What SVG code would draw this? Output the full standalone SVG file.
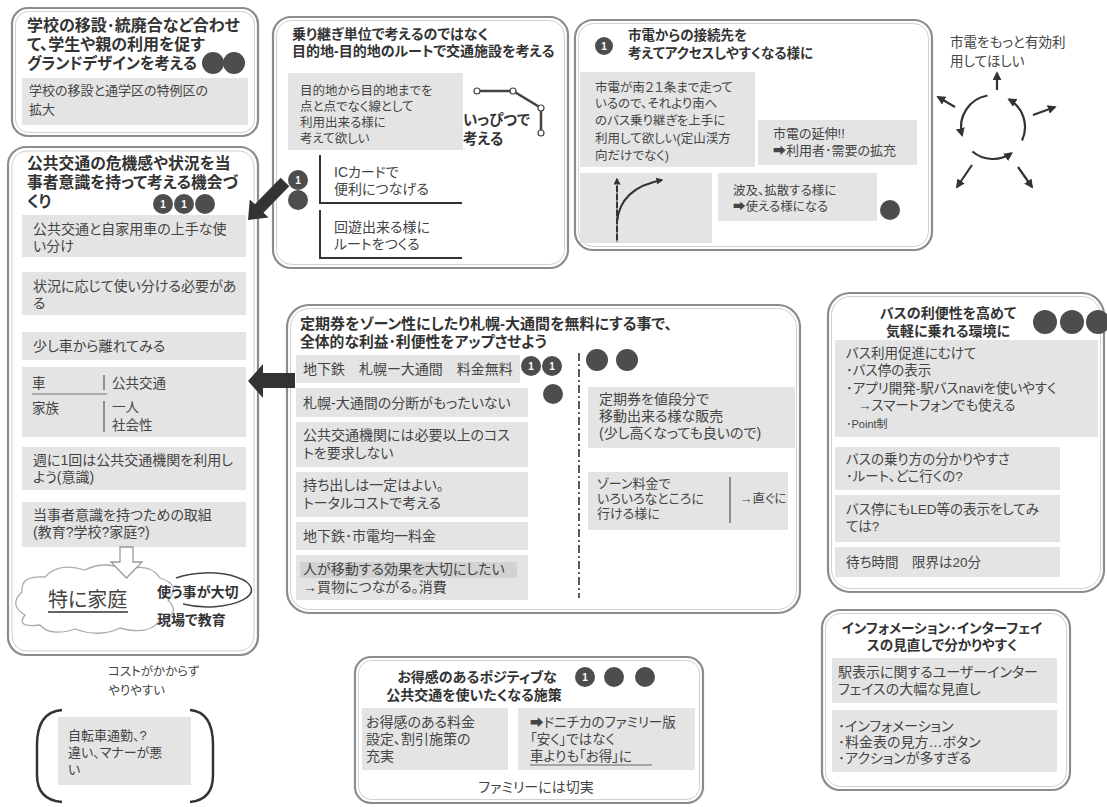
<svg xmlns="http://www.w3.org/2000/svg" width="1107" height="807" viewBox="0 0 1107 807" font-size="12.5">
<defs>
<style>
text{font-family:"Liberation Sans","Noto Sans CJK JP","DejaVu Sans",sans-serif;fill:#444;font-feature-settings:"palt" 1}
.t{font-weight:700;fill:#333}
.frame{fill:#fff;stroke:#8c8c8c;stroke-width:2.2}
.inner{fill:none;stroke:#d0d0d0;stroke-width:1}
.card{fill:#e4e4e4}
.dot{fill:#4d4d4d}
.num{fill:#fff;font-size:10px;font-weight:700;text-anchor:middle}
.ln{stroke:#333;stroke-width:2;fill:none}
.arr{stroke:#333;stroke-width:2.2;fill:none;marker-end:url(#ah)}
.big{fill:#333}
</style>
<marker id="ah" viewBox="0 0 10 10" refX="8" refY="5" markerWidth="9" markerHeight="9" markerUnits="userSpaceOnUse" orient="auto">
<path d="M0,0 L10,5 L0,10 z" fill="#333"/>
</marker>
<marker id="ahs" viewBox="0 0 10 10" refX="8" refY="5" markerWidth="7" markerHeight="7" markerUnits="userSpaceOnUse" orient="auto">
<path d="M0,0 L10,5 L0,10 z" fill="#333"/>
</marker>
</defs>
<rect width="1107" height="807" fill="#fff"/>

<g id="n-school">
<rect class="frame" x="12" y="8" width="246" height="128" rx="16"/>
<rect class="inner" x="15.5" y="11.5" width="239" height="121" rx="13"/>
<text class="t" font-size="16"><tspan x="27" y="31">学校の移設･統廃合など合わせ</tspan><tspan x="27" y="50">て、学生や親の利用を促す</tspan></text>
<text class="t" font-size="16" x="27" y="69" textLength="170" lengthAdjust="spacingAndGlyphs">グランドデザインを考える</text>
<circle class="dot" cx="213" cy="63" r="11"/><circle class="dot" cx="234" cy="63" r="11"/>
<rect class="card" x="22" y="78" width="226" height="47"/>
<text font-size="13"><tspan x="29" y="95">学校の移設と通学区の特例区の</tspan><tspan x="29" y="114">拡大</tspan></text>
</g>

<g id="n-awareness">
<rect class="frame" x="8" y="147" width="250" height="508" rx="18"/>
<rect class="inner" x="12" y="151" width="242" height="500" rx="15"/>
<text class="t" font-size="15.8"><tspan x="27" y="169">公共交通の危機感や状況を当</tspan><tspan x="27" y="188">事者意識を持って考える機会づ</tspan><tspan x="27" y="207">くり</tspan></text>
<circle class="dot" cx="163" cy="204" r="10"/><text class="num" x="163" y="208">1</text>
<circle class="dot" cx="184" cy="204" r="10"/><text class="num" x="184" y="208">1</text>
<circle class="dot" cx="205" cy="204" r="10"/>
<rect class="card" x="22" y="215" width="224" height="42"/>
<text font-size="14"><tspan x="33" y="234">公共交通と自家用車の上手な使</tspan><tspan x="33" y="251">い分け</tspan></text>
<rect class="card" x="22" y="272" width="224" height="43"/>
<text font-size="14"><tspan x="33" y="291">状況に応じて使い分ける必要があ</tspan><tspan x="33" y="308">る</tspan></text>
<rect class="card" x="22" y="332" width="224" height="28"/>
<text font-size="14" x="33" y="351">少し車から離れてみる</text>
<rect class="card" x="22" y="367" width="224" height="70"/>
<text font-size="13.5" x="32" y="388">車</text>
<text font-size="13.5" x="112" y="388">公共交通</text>
<line x1="32" y1="394" x2="107" y2="394" stroke="#777" stroke-width="1.2"/>
<line x1="104" y1="375" x2="104" y2="390" stroke="#555" stroke-width="1.2"/>
<text font-size="13.5" x="32" y="413">家族</text>
<text font-size="13.5" x="112" y="412">一人</text>
<text font-size="13.5" x="112" y="430">社会性</text>
<line x1="104" y1="401" x2="104" y2="432" stroke="#555" stroke-width="1.2"/>
<rect class="card" x="22" y="447" width="224" height="43"/>
<text font-size="14"><tspan x="33" y="465">週に1回は公共交通機関を利用し</tspan><tspan x="33" y="482">よう(意識)</tspan></text>
<rect class="card" x="22" y="502" width="224" height="45"/>
<text font-size="14"><tspan x="33" y="520">当事者意識を持つための取組</tspan><tspan x="33" y="537">(教育?学校?家庭?)</tspan></text>
<path d="M25 615 Q8 605 22 592 Q20 575 45 577 Q58 562 85 570 Q105 560 125 570 Q150 562 160 578 Q182 585 168 600 Q182 615 160 620 Q150 636 120 628 Q100 638 75 629 Q50 637 40 625 Q15 628 25 615 Z" fill="#fff" stroke="#aaa" stroke-width="1.3"/>
<path d="M120 547 L133 547 L133 562 L142 562 L126.5 578 L111 562 L120 562 Z" fill="#fff" stroke="#999" stroke-width="1.3"/>
<text font-size="20" x="48" y="607" fill="#333">特に家庭</text>
<line x1="48" y1="612" x2="128" y2="612" stroke="#333" stroke-width="1.3"/>
<path d="M176 578 A44 17 0 1 1 183 604" fill="none" stroke="#444" stroke-width="1.5"/>
<text class="t" font-size="14" x="157" y="597">使う事が大切</text>
<text class="t" font-size="14" x="157" y="625">現場で教育</text>
</g>

<g id="n-cost">
<text x="108" y="676">コストがかからず</text>
<text x="108" y="695">やりやすい</text>
</g>

<g id="n-bicycle">
<path d="M62 710 Q37 712 37 745 L37 775 Q37 800 62 802" fill="none" stroke="#333" stroke-width="2.5"/>
<path d="M190 710 Q213 712 213 745 L213 775 Q213 800 190 802" fill="none" stroke="#333" stroke-width="2.5"/>
<rect class="card" x="58" y="717" width="133" height="68"/>
<text font-size="13"><tspan x="68" y="740">自転車通勤、?</tspan><tspan x="68" y="757">違い、マナーが悪</tspan><tspan x="68" y="774">い</tspan></text>
</g>

<g id="n-route">
<rect class="frame" x="273" y="17" width="295" height="251" rx="18"/>
<rect class="inner" x="276.5" y="20.5" width="288" height="244" rx="15"/>
<text class="t" font-size="14"><tspan x="292" y="39">乗り継ぎ単位で考えるのではなく</tspan><tspan x="292" y="56">目的地-目的地のルートで交通施設を考える</tspan></text>
<rect class="card" x="288" y="73" width="175" height="77"/>
<text><tspan x="300" y="95">目的地から目的地までを</tspan><tspan x="300" y="111">点と点でなく線として</tspan><tspan x="300" y="127">利用出来る様に</tspan><tspan x="300" y="143">考えて欲しい</tspan></text>
<polyline points="477,91 513,91 541,108 541,133" fill="none" stroke="#444" stroke-width="2.5"/>
<circle cx="477" cy="91" r="3" fill="#fff" stroke="#444" stroke-width="1.2"/>
<circle cx="513" cy="91" r="3" fill="#fff" stroke="#444" stroke-width="1.2"/>
<circle cx="541" cy="108" r="3" fill="#fff" stroke="#444" stroke-width="1.2"/>
<circle cx="541" cy="133" r="3" fill="#fff" stroke="#444" stroke-width="1.2"/>
<text class="t" font-size="14.5"><tspan x="463" y="125">いっぴつで</tspan><tspan x="463" y="144">考える</tspan></text>
<polyline class="ln" points="320,155 320,203 462,203"/>
<text font-size="14"><tspan x="334" y="177">ICカードで</tspan><tspan x="334" y="194">便利につなげる</tspan></text>
<polyline class="ln" points="320,210 320,258 462,258"/>
<text font-size="14"><tspan x="334" y="232">回遊出来る様に</tspan><tspan x="334" y="249">ルートをつくる</tspan></text>
<circle class="dot" cx="298" cy="180" r="10"/><text class="num" x="298" y="184">1</text>
<circle class="dot" cx="298" cy="200" r="10"/>
</g>

<g id="n-tram">
<rect class="frame" x="575" y="20" width="357" height="230" rx="18"/>
<rect class="inner" x="578.5" y="23.5" width="350" height="223" rx="15"/>
<circle class="dot" cx="604" cy="46" r="9"/><text class="num" x="604" y="50">1</text>
<text class="t" font-size="13.5"><tspan x="628" y="40">市電からの接続先を</tspan><tspan x="628" y="58">考えてアクセスしやすくなる様に</tspan></text>
<rect class="card" x="580" y="72" width="175" height="95"/>
<text><tspan x="595" y="92">市電が南２１条まで走って</tspan><tspan x="595" y="108">いるので、それより南へ</tspan><tspan x="595" y="125">のバス乗り継ぎを上手に</tspan><tspan x="595" y="143">利用して欲しい(定山渓方</tspan><tspan x="595" y="160">向だけでなく)</tspan></text>
<rect class="card" x="758" y="120" width="159" height="45"/>
<text font-size="13"><tspan x="773" y="138">市電の延伸!!</tspan><tspan x="773" y="155">➡利用者･需要の拡充</tspan></text>
<rect class="card" x="580" y="173" width="132" height="70"/>
<line x1="617" y1="242" x2="617" y2="179" stroke="#333" stroke-width="2" marker-end="url(#ahs)"/>
<line x1="617" y1="242" x2="617" y2="184" stroke="#e4e4e4" stroke-width="1" stroke-dasharray="2 6"/>
<path d="M617 222 Q620 188 662 180" fill="none" stroke="#333" stroke-width="2" marker-end="url(#ahs)"/>
<rect class="card" x="718" y="173" width="159" height="48"/>
<text font-size="12.5"><tspan x="733" y="195">波及、拡散する様に</tspan><tspan x="733" y="211">➡使える様になる</tspan></text>
<circle class="dot" cx="890" cy="210" r="10"/>
</g>

<g id="n-tram-use">
<text font-size="13.5"><tspan x="950" y="47">市電をもっと有効利</tspan><tspan x="950" y="66">用してほしい</tspan></text>
<path class="arr" d="M987.4 95.5 A32 32 0 0 0 962.1 135.3"/>
<path class="arr" d="M1022 140.5 A32 32 0 0 0 1009 99.3"/>
<path class="arr" d="M972.4 151.5 A32 32 0 0 0 1011.4 153.2"/>
<line class="arr" x1="997" y1="90" x2="997" y2="73"/>
<line class="arr" x1="955" y1="107" x2="938" y2="97"/>
<line class="arr" x1="1033" y1="115" x2="1055" y2="107"/>
<line class="arr" x1="972" y1="165" x2="957" y2="187"/>
<line class="arr" x1="1018" y1="167" x2="1032" y2="187"/>
</g>

<g id="n-zone">
<rect class="frame" x="287" y="305" width="513" height="308" rx="22"/>
<rect class="inner" x="290.5" y="308.5" width="506" height="301" rx="19"/>
<text class="t" font-size="14.8" x="300" y="329" textLength="372" lengthAdjust="spacingAndGlyphs">定期券をゾーン性にしたり札幌-大通間を無料にする事で、</text>
<text class="t" font-size="14.8" x="300" y="347">全体的な利益･利便性をアップさせよう</text>
<rect class="card" x="296" y="355" width="224" height="28"/>
<text font-size="14" x="303" y="374">地下鉄　札幌ー大通間　料金無料</text>
<rect class="card" x="296" y="388" width="232" height="29"/>
<text font-size="14" x="303" y="408">札幌-大通間の分断がもったいない</text>
<rect class="card" x="296" y="422" width="232" height="45"/>
<text font-size="14"><tspan x="303" y="440">公共交通機関には必要以上のコス</tspan><tspan x="303" y="458">トを要求しない</tspan></text>
<rect class="card" x="296" y="472" width="232" height="45"/>
<text font-size="14"><tspan x="303" y="490">持ち出しは一定はよい。</tspan><tspan x="303" y="508">トータルコストで考える</tspan></text>
<rect class="card" x="296" y="522" width="232" height="28"/>
<text font-size="14" x="303" y="541">地下鉄･市電均一料金</text>
<rect class="card" x="296" y="555" width="232" height="45"/>
<rect x="300" y="562" width="217" height="16" fill="#d2d2d2"/>
<text font-size="14"><tspan x="303" y="574">人が移動する効果を大切にしたい</tspan><tspan x="303" y="592">→買物につながる。消費</tspan></text>
<circle class="dot" cx="531" cy="366" r="10"/><text class="num" x="531" y="370">1</text>
<circle class="dot" cx="552" cy="366" r="10"/><text class="num" x="552" y="370">1</text>
<circle class="dot" cx="553" cy="394" r="10"/>
<line x1="579" y1="353" x2="579" y2="598" stroke="#333" stroke-width="1.6" stroke-dasharray="8 3 2 3"/>
<circle class="dot" cx="597" cy="360" r="11"/>
<circle class="dot" cx="627" cy="360" r="11"/>
<rect class="card" x="588" y="387" width="207" height="61"/>
<text font-size="14"><tspan x="599" y="404">定期券を値段分で</tspan><tspan x="599" y="421">移動出来る様な販売</tspan><tspan x="599" y="438">(少し高くなっても良いので)</tspan></text>
<rect class="card" x="588" y="472" width="200" height="58"/>
<text font-size="13"><tspan x="597" y="488">ゾーン料金で</tspan><tspan x="597" y="503">いろいろなところに</tspan><tspan x="597" y="518">行ける様に</tspan></text>
<line x1="730" y1="477" x2="730" y2="523" stroke="#555" stroke-width="1.2"/>
<text font-size="12.5" x="740" y="503">→直ぐに</text>
</g>

<g id="n-bus">
<rect class="frame" x="828" y="293" width="276" height="299" rx="22"/>
<rect class="inner" x="831.5" y="296.5" width="269" height="292" rx="19"/>
<text class="t" font-size="14" text-anchor="middle"><tspan x="948" y="318">バスの利便性を高めて</tspan><tspan x="948" y="336">気軽に乗れる環境に</tspan></text>
<circle class="dot" cx="1045" cy="322" r="12"/>
<circle class="dot" cx="1072" cy="322" r="12"/>
<circle class="dot" cx="1098" cy="322" r="12"/>
<rect class="card" x="835" y="340" width="263" height="97"/>
<text font-size="13.5"><tspan x="846" y="358">バス利用促進にむけて</tspan><tspan x="846" y="375">･バス停の表示</tspan><tspan x="846" y="393">･アプリ開発-駅バスnaviを使いやすく</tspan><tspan x="858" y="410">→スマートフォンでも使える</tspan></text>
<text font-size="11" x="846" y="428">･Point制</text>
<rect class="card" x="835" y="447" width="225" height="43"/>
<text font-size="13.5"><tspan x="846" y="464">バスの乗り方の分かりやすさ</tspan><tspan x="846" y="481">･ルート、どこ行くの?</tspan></text>
<rect class="card" x="835" y="495" width="225" height="47"/>
<text font-size="13.5"><tspan x="846" y="514">バス停にもLED等の表示をしてみ</tspan><tspan x="846" y="531">ては?</tspan></text>
<rect class="card" x="835" y="547" width="225" height="30"/>
<text font-size="13.5" x="846" y="567">待ち時間　限界は20分</text>
</g>

<g id="n-info">
<rect class="frame" x="822" y="610" width="248" height="180" rx="18"/>
<rect class="inner" x="825.5" y="613.5" width="241" height="173" rx="15"/>
<text class="t" font-size="13.6" text-anchor="middle"><tspan x="942" y="633">インフォメーション･インターフェイ</tspan><tspan x="942" y="650">スの見直しで分かりやすく</tspan></text>
<rect class="card" x="832" y="658" width="225" height="45"/>
<text font-size="14"><tspan x="838" y="677">駅表示に関するユーザーインター</tspan><tspan x="838" y="694">フェイスの大幅な見直し</tspan></text>
<rect class="card" x="832" y="710" width="225" height="62"/>
<text font-size="14"><tspan x="838" y="731">･インフォメーション</tspan><tspan x="838" y="747">･料金表の見方…ボタン</tspan><tspan x="838" y="763">･アクションが多すぎる</tspan></text>
</g>

<g id="n-otoku">
<rect class="frame" x="355" y="657" width="348" height="146" rx="16"/>
<rect class="inner" x="358.5" y="660.5" width="341" height="139" rx="13"/>
<text class="t" font-size="14" text-anchor="middle"><tspan x="477" y="682">お得感のあるポジティブな</tspan><tspan x="474" y="700">公共交通を使いたくなる施策</tspan></text>
<circle class="dot" cx="585" cy="677" r="10"/><text class="num" x="585" y="681">1</text>
<circle class="dot" cx="614" cy="677" r="10"/>
<circle class="dot" cx="645" cy="677" r="10"/>
<rect class="card" x="362" y="708" width="146" height="62"/>
<text font-size="14"><tspan x="366" y="727">お得感のある料金</tspan><tspan x="366" y="744">設定、割引施策の</tspan><tspan x="366" y="761">充実</tspan></text>
<rect class="card" x="518" y="708" width="177" height="62"/>
<text font-size="13.5"><tspan x="530" y="727">➡ドニチカのファミリー版</tspan><tspan x="530" y="744">「安く」ではなく</tspan><tspan x="530" y="761">車よりも「お得」に</tspan></text>
<line x1="530" y1="765" x2="652" y2="765" stroke="#666" stroke-width="1"/>
<text font-size="14" text-anchor="middle" x="536" y="792">ファミリーには切実</text>
</g>

<g id="connectors">
<polygon class="big" points="289.3,186.2 263.5,212.7 268.6,217.6 248,220 249.8,199.4 254.9,204.3 280.7,177.8"/>
<polygon class="big" points="295,373 263,373 263,364 248,381 263,398 263,388 295,388"/>
</g>
</svg>
